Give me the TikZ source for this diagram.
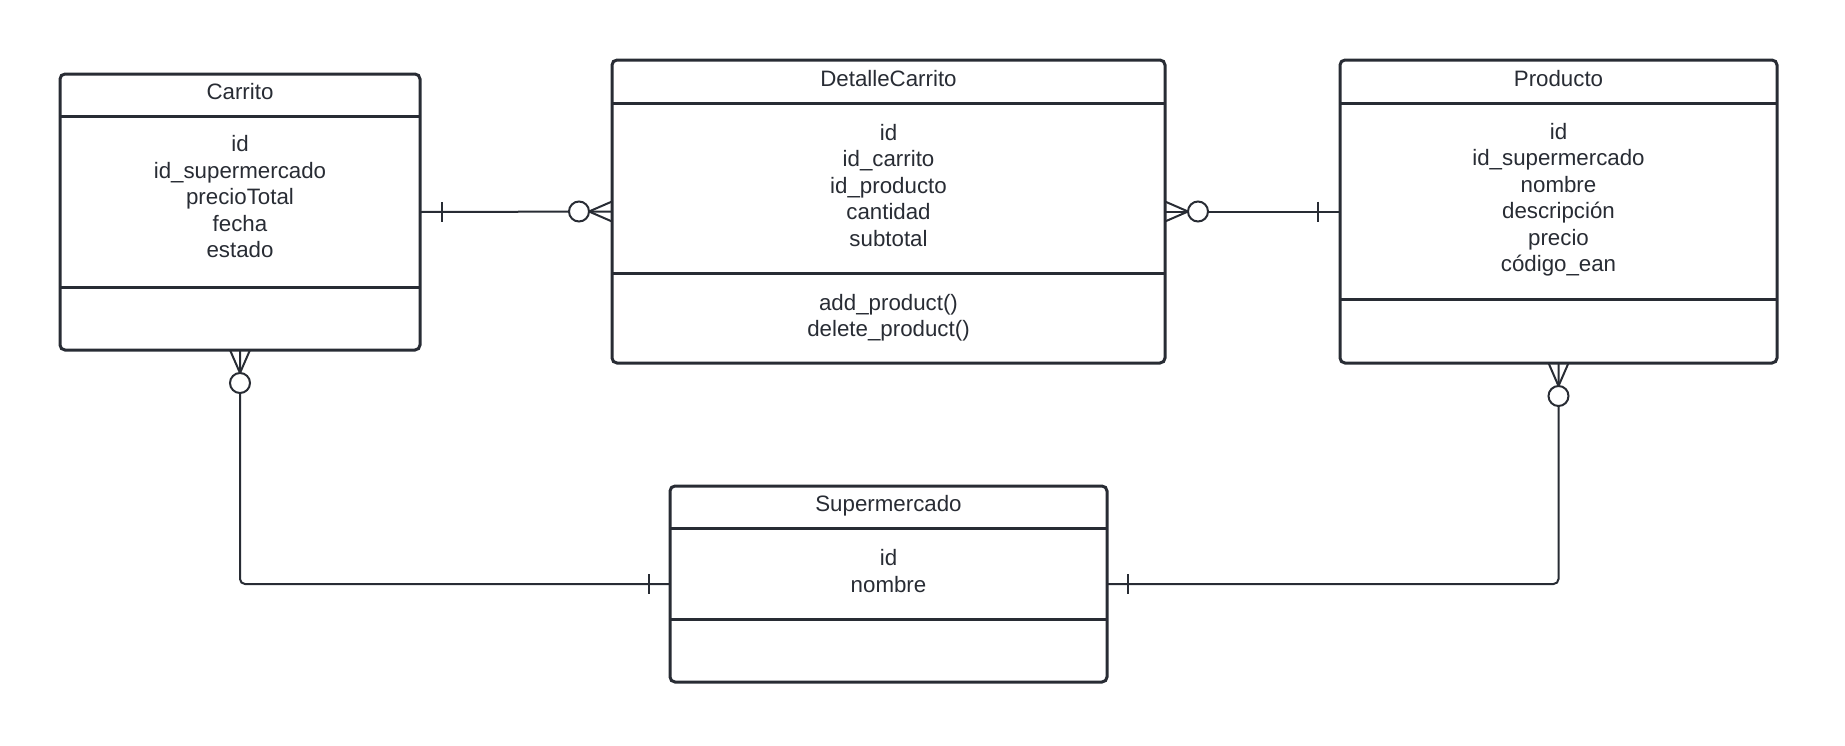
\documentclass[tikz,border=0pt]{standalone}
\usepackage{fontspec}
\setmainfont{Liberation Sans}
\usetikzlibrary{calc}
\definecolor{ink}{RGB}{40,44,52}
\tikzset{
  cls/.style={draw=ink, line width=3pt, rounded corners=5pt, inner sep=0pt, outer sep=0pt, fill=white},
  sepline/.style={draw=ink, line width=3pt},
  txt/.style={text=ink, align=center, inner sep=0pt, font=\fontsize{22.3}{26.5}\selectfont},
  conn/.style={draw=ink, line width=2pt},
  ring/.style={draw=ink, line width=2pt, fill=white},
}
\begin{document}
\begin{tikzpicture}[x=1pt,y=-1pt]
\useasboundingbox (0,0) rectangle (1845,745);
% classes
\node[cls, minimum width=360pt, minimum height=276pt] (carrito) at (240,212) {};
\node[cls, minimum width=553pt, minimum height=303pt] (detalle) at (888.5,211.5) {};
\node[cls, minimum width=437pt, minimum height=303pt] (producto) at (1558.5,211.5) {};
\node[cls, minimum width=437pt, minimum height=196pt] (super) at (888.5,584) {};
% separators
\draw[sepline] (carrito.west |- 0,116) -- (carrito.east |- 0,116);
\draw[sepline] (carrito.west |- 0,287) -- (carrito.east |- 0,287);
\draw[sepline] (detalle.west |- 0,103) -- (detalle.east |- 0,103);
\draw[sepline] (detalle.west |- 0,273) -- (detalle.east |- 0,273);
\draw[sepline] (producto.west |- 0,103) -- (producto.east |- 0,103);
\draw[sepline] (producto.west |- 0,299) -- (producto.east |- 0,299);
\draw[sepline] (super.west |- 0,528) -- (super.east |- 0,528);
\draw[sepline] (super.west |- 0,619) -- (super.east |- 0,619);
% texts
\node[txt] (carritoT) at (240,92) {Carrito};
\node[txt] (carritoA) at (240,197) {id\\id\_supermercado\\precioTotal\\fecha\\estado};
\node[txt] (detalleT) at (888.5,79) {DetalleCarrito};
\node[txt] (detalleA) at (888.5,185.5) {id\\id\_carrito\\id\_producto\\cantidad\\subtotal};
\node[txt] (detalleM) at (888.5,317.5) {add\_product()\\delete\_product()};
\node[txt] (productoT) at (1558.5,79) {Producto};
\node[txt] (productoA) at (1558.5,199.5) {id\\id\_supermercado\\nombre\\descripción\\precio\\código\_ean};
\node[txt] (superT) at (888.5,506) {Supermercado};
\node[txt] (superA) at (888.5,571) {id\\nombre};
% connector Carrito - DetalleCarrito
\draw[conn] (carrito.east) -- (detalle.west);
\draw[conn] ($(carrito.east)+(22,-10)$) -- ($(carrito.east)+(22,10)$);
\draw[conn] ($(detalle.west)+(-23,0)$) -- ($(detalle.west)+(0,-10)$);
\draw[conn] ($(detalle.west)+(-23,0)$) -- ($(detalle.west)+(0,10)$);
\draw[ring] ($(detalle.west)+(-33,0)$) circle[radius=10pt];
% connector DetalleCarrito - Producto
\draw[conn] (detalle.east) -- (producto.west);
\draw[conn] ($(producto.west)+(-22,-10)$) -- ($(producto.west)+(-22,10)$);
\draw[conn] ($(detalle.east)+(23,0)$) -- ($(detalle.east)+(0,-10)$);
\draw[conn] ($(detalle.east)+(23,0)$) -- ($(detalle.east)+(0,10)$);
\draw[ring] ($(detalle.east)+(33,0)$) circle[radius=10pt];
% connector Carrito - Supermercado
\draw[conn, rounded corners=5pt] (carrito.south) |- (super.west);
\draw[conn] ($(super.west)+(-21,-10)$) -- ($(super.west)+(-21,10)$);
\draw[conn] ($(carrito.south)+(0,23)$) -- ($(carrito.south)+(-10,0)$);
\draw[conn] ($(carrito.south)+(0,23)$) -- ($(carrito.south)+(10,0)$);
\draw[ring] ($(carrito.south)+(0,33)$) circle[radius=10pt];
% connector Producto - Supermercado
\draw[conn, rounded corners=5pt] (producto.south) |- (super.east);
\draw[conn] ($(super.east)+(21,-10)$) -- ($(super.east)+(21,10)$);
\draw[conn] ($(producto.south)+(0,23)$) -- ($(producto.south)+(-10,0)$);
\draw[conn] ($(producto.south)+(0,23)$) -- ($(producto.south)+(10,0)$);
\draw[ring] ($(producto.south)+(0,33)$) circle[radius=10pt];
\end{tikzpicture}
\end{document}
